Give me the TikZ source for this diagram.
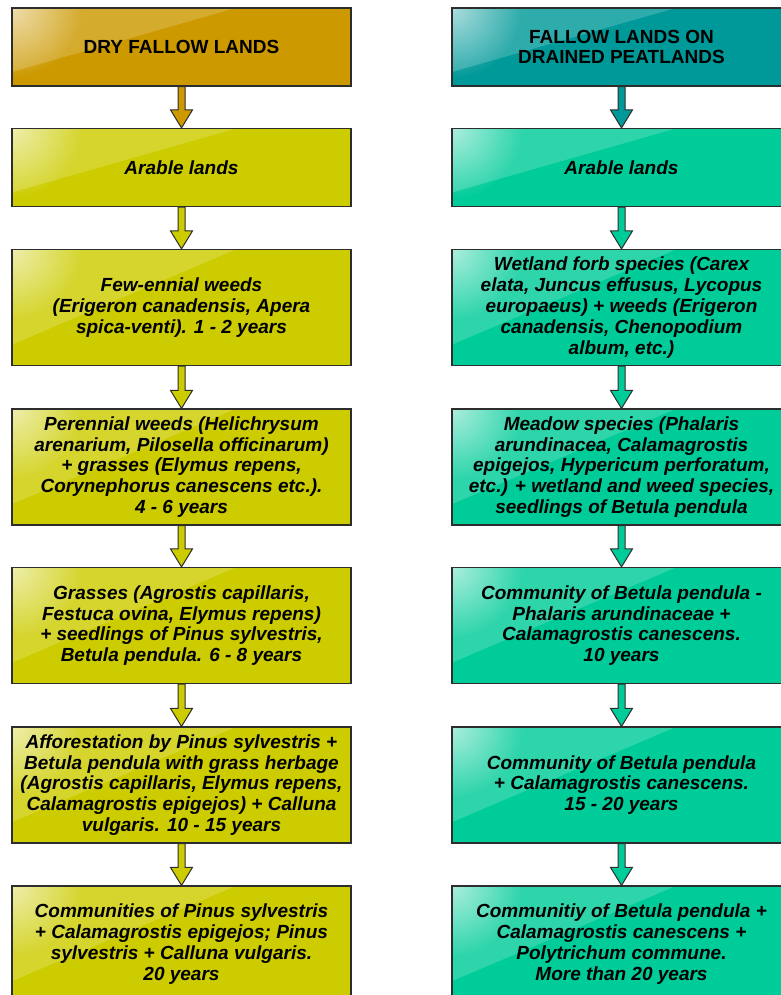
\documentclass[tikz,border=0pt]{standalone}
\usepackage{fontspec}
\setmainfont{Liberation Sans}
\usepackage{tikz}
\usetikzlibrary{calc,fadings,positioning}

\definecolor{dryhead}{RGB}{204,153,0}
\definecolor{drybox}{RGB}{204,204,0}
\definecolor{peathead}{RGB}{0,153,153}
\definecolor{peatbox}{RGB}{0,204,153}
\definecolor{edgegray}{RGB}{45,45,45}

\tikzfading[name=glossfade, inner color=transparent!40, outer color=transparent!100]

\tikzset{
	gloss/.style={path picture={
		\fill[white, fill opacity=.18] (path picture bounding box.north west)
			-- ($(path picture bounding box.north west)!.66!(path picture bounding box.north east)$)
			-- ($(path picture bounding box.north west)!.82!(path picture bounding box.south west)$) -- cycle;
		\fill[white, path fading=glossfade] (path picture bounding box.north west) circle (70bp);
	}},
	stage/.style={draw=edgegray, line width=1.2bp, minimum width=339bp, minimum height=116bp,
		inner sep=0pt, align=center, text=black,
		font=\fontsize{19bp}{20.8bp}\selectfont\bfseries\itshape, gloss},
	lowbox/.style={minimum height=78bp},
	head/.style={stage, lowbox, font=\fontsize{19bp}{20.8bp}\selectfont\bfseries},
	blockarrow/.style={draw=edgegray, line width=1bp, to path={
		let \p1=(\tikztostart), \p2=(\tikztotarget) in
		(\x1-3.5bp,\y1) -- (\x1-3.5bp,\y2+18bp) -- (\x1-11bp,\y2+18bp) -- (\x2,\y2)
		-- (\x1+11bp,\y2+18bp) -- (\x1+3.5bp,\y2+18bp) -- (\x1+3.5bp,\y1) -- cycle}}
}

\begin{document}
\begin{tikzpicture}
	\useasboundingbox (0bp,0bp) rectangle (781bp,-995bp);

	% dry fallow lands
	\node (d0) at (181.5bp,-47bp)    [head, fill=dryhead] {DRY FALLOW LANDS};
	\node (d1) at (181.5bp,-167.5bp) [stage, lowbox, fill=drybox] {Arable lands};
	\node (d2) at (181.5bp,-307.5bp) [stage, fill=drybox] {Few-ennial weeds\\(Erigeron canadensis, Apera\\spica-venti). 1 - 2 years};
	\node (d3) at (181.5bp,-467bp)   [stage, fill=drybox] {Perennial weeds (Helichrysum\\arenarium, Pilosella officinarum)\\+ grasses (Elymus repens,\\Corynephorus canescens etc.).\\4 - 6 years};
	\node (d4) at (181.5bp,-625.5bp) [stage, fill=drybox] {Grasses (Agrostis capillaris,\\Festuca ovina, Elymus repens)\\+ seedlings of Pinus sylvestris,\\Betula pendula. 6 - 8 years};
	\node (d5) at (181.5bp,-785bp)   [stage, fill=drybox] {Afforestation by Pinus sylvestris +\\Betula pendula with grass herbage\\(Agrostis capillaris, Elymus repens,\\Calamagrostis epigejos) + Calluna\\vulgaris. 10 - 15 years};
	\node (d6) at (181.5bp,-944bp)   [stage, fill=drybox] {Communities of Pinus sylvestris\\+ Calamagrostis epigejos; Pinus\\sylvestris + Calluna vulgaris.\\20 years};

	% drained peatlands
	\node (p0) at (621.5bp,-47bp)    [head, fill=peathead] {FALLOW LANDS ON\\DRAINED PEATLANDS};
	\node (p1) at (621.5bp,-167.5bp) [stage, lowbox, fill=peatbox] {Arable lands};
	\node (p2) at (621.5bp,-307.5bp) [stage, fill=peatbox] {Wetland forb species (Carex\\elata, Juncus effusus, Lycopus\\europaeus) + weeds (Erigeron\\canadensis, Chenopodium\\album, etc.)};
	\node (p3) at (621.5bp,-467bp)   [stage, fill=peatbox] {Meadow species (Phalaris\\arundinacea, Calamagrostis\\epigejos, Hypericum perforatum,\\etc.) + wetland and weed species,\\seedlings of Betula pendula};
	\node (p4) at (621.5bp,-625.5bp) [stage, fill=peatbox] {Community of Betula pendula -\\Phalaris arundinaceae +\\Calamagrostis canescens.\\10 years};
	\node (p5) at (621.5bp,-785bp)   [stage, fill=peatbox] {Community of Betula pendula\\+ Calamagrostis canescens.\\15 - 20 years};
	\node (p6) at (621.5bp,-944bp)   [stage, fill=peatbox] {Communitiy of Betula pendula +\\Calamagrostis canescens +\\Polytrichum commune.\\More than 20 years};

	\draw [blockarrow, fill=dryhead] (d0.south) to (d1.north);
	\draw [blockarrow, fill=drybox] (d1.south) to (d2.north);
	\draw [blockarrow, fill=drybox] (d2.south) to (d3.north);
	\draw [blockarrow, fill=drybox] (d3.south) to (d4.north);
	\draw [blockarrow, fill=drybox] (d4.south) to (d5.north);
	\draw [blockarrow, fill=drybox] (d5.south) to (d6.north);

	\draw [blockarrow, fill=peathead] (p0.south) to (p1.north);
	\draw [blockarrow, fill=peatbox] (p1.south) to (p2.north);
	\draw [blockarrow, fill=peatbox] (p2.south) to (p3.north);
	\draw [blockarrow, fill=peatbox] (p3.south) to (p4.north);
	\draw [blockarrow, fill=peatbox] (p4.south) to (p5.north);
	\draw [blockarrow, fill=peatbox] (p5.south) to (p6.north);

\end{tikzpicture}
\end{document}
